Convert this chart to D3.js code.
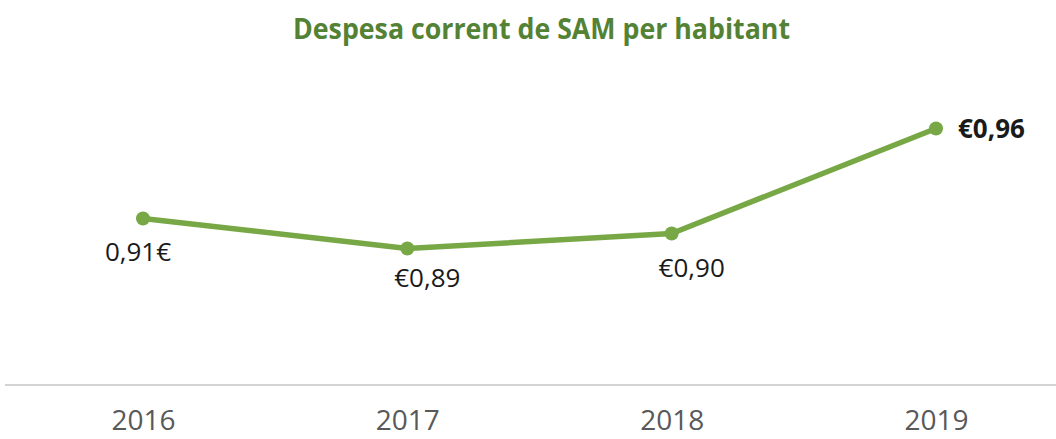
<!DOCTYPE html>
<html>
<head>
<meta charset="utf-8">
<script src="https://cdn.jsdelivr.net/npm/d3@7"></script>
<style>
    body { margin: 0; background: #fff; }
    svg text { font-family: "Open Sans", sans-serif; }
</style>
</head>
<body>
<div id="chart"></div>
<script>
// data
const years = ["2016", "2017", "2018", "2019"];
const spend = [0.911, 0.891, 0.901, 0.971];
const labels = ["0,91€", "€0,89", "€0,90", "€0,96"];

const width = 1056, height = 439;

const svg = d3.select("#chart").append("svg")
    .attr("width", width)
    .attr("height", height);

// scales
const x = d3.scalePoint()
    .domain(years)
    .range([143, 936]);

const y = d3.scaleLinear()
    .domain([0.8, 1.0])
    .range([385, 85]);

// title
svg.append("text")
    .attr("x", 293)
    .attr("y", 39)
    .attr("textLength", 497)
    .attr("lengthAdjust", "spacingAndGlyphs")
    .style("font-size", "28px")
    .style("font-weight", "bold")
    .style("fill", "#548235")
    .text("Despesa corrent de SAM per habitant");

// x axis
const xAxis = svg.append("g")
    .attr("transform", `translate(0, ${y(0.8)})`)
    .call(d3.axisBottom(x).tickSize(0).tickPadding(25));

xAxis.select(".domain").remove();
xAxis.append("line")
    .attr("x1", 5)
    .attr("x2", width)
    .attr("stroke", "#d4d4d4")
    .attr("stroke-width", 2);

xAxis.selectAll(".tick text")
    .style("font-family", "'Open Sans', sans-serif")
    .style("font-size", "28px")
    .style("fill", "#595959");

// line
const data = years.map((d, i) => ({year: d, value: spend[i], label: labels[i]}));

svg.append("path")
    .datum(data)
    .attr("fill", "none")
    .attr("stroke", "#78a845")
    .attr("stroke-width", 5.5)
    .attr("stroke-linejoin", "round")
    .attr("d", d3.line().x(d => x(d.year)).y(d => y(d.value)));

svg.selectAll(".dot")
    .data(data)
    .enter().append("circle")
    .attr("class", "dot")
    .attr("cx", d => x(d.year))
    .attr("cy", d => y(d.value))
    .attr("r", 7)
    .attr("fill", "#78a845");

// value labels (offsets per point, as in the original)
const offsets = [
    {dx: -5, dy: 42, anchor: "middle", bold: false},
    {dx: 20, dy: 38, anchor: "middle", bold: false},
    {dx: 20, dy: 43, anchor: "middle", bold: false},
    {dx: 22, dy: 9, anchor: "start", bold: true}
];

svg.selectAll(".val")
    .data(data)
    .enter().append("text")
    .attr("class", "val")
    .attr("x", (d, i) => x(d.year) + offsets[i].dx)
    .attr("y", (d, i) => y(d.value) + offsets[i].dy)
    .attr("text-anchor", (d, i) => offsets[i].anchor)
    .style("font-size", "26px")
    .style("font-weight", (d, i) => offsets[i].bold ? "bold" : "normal")
    .style("fill", "#1a1a1a")
    .text(d => d.label);
</script>
</body>
</html>
